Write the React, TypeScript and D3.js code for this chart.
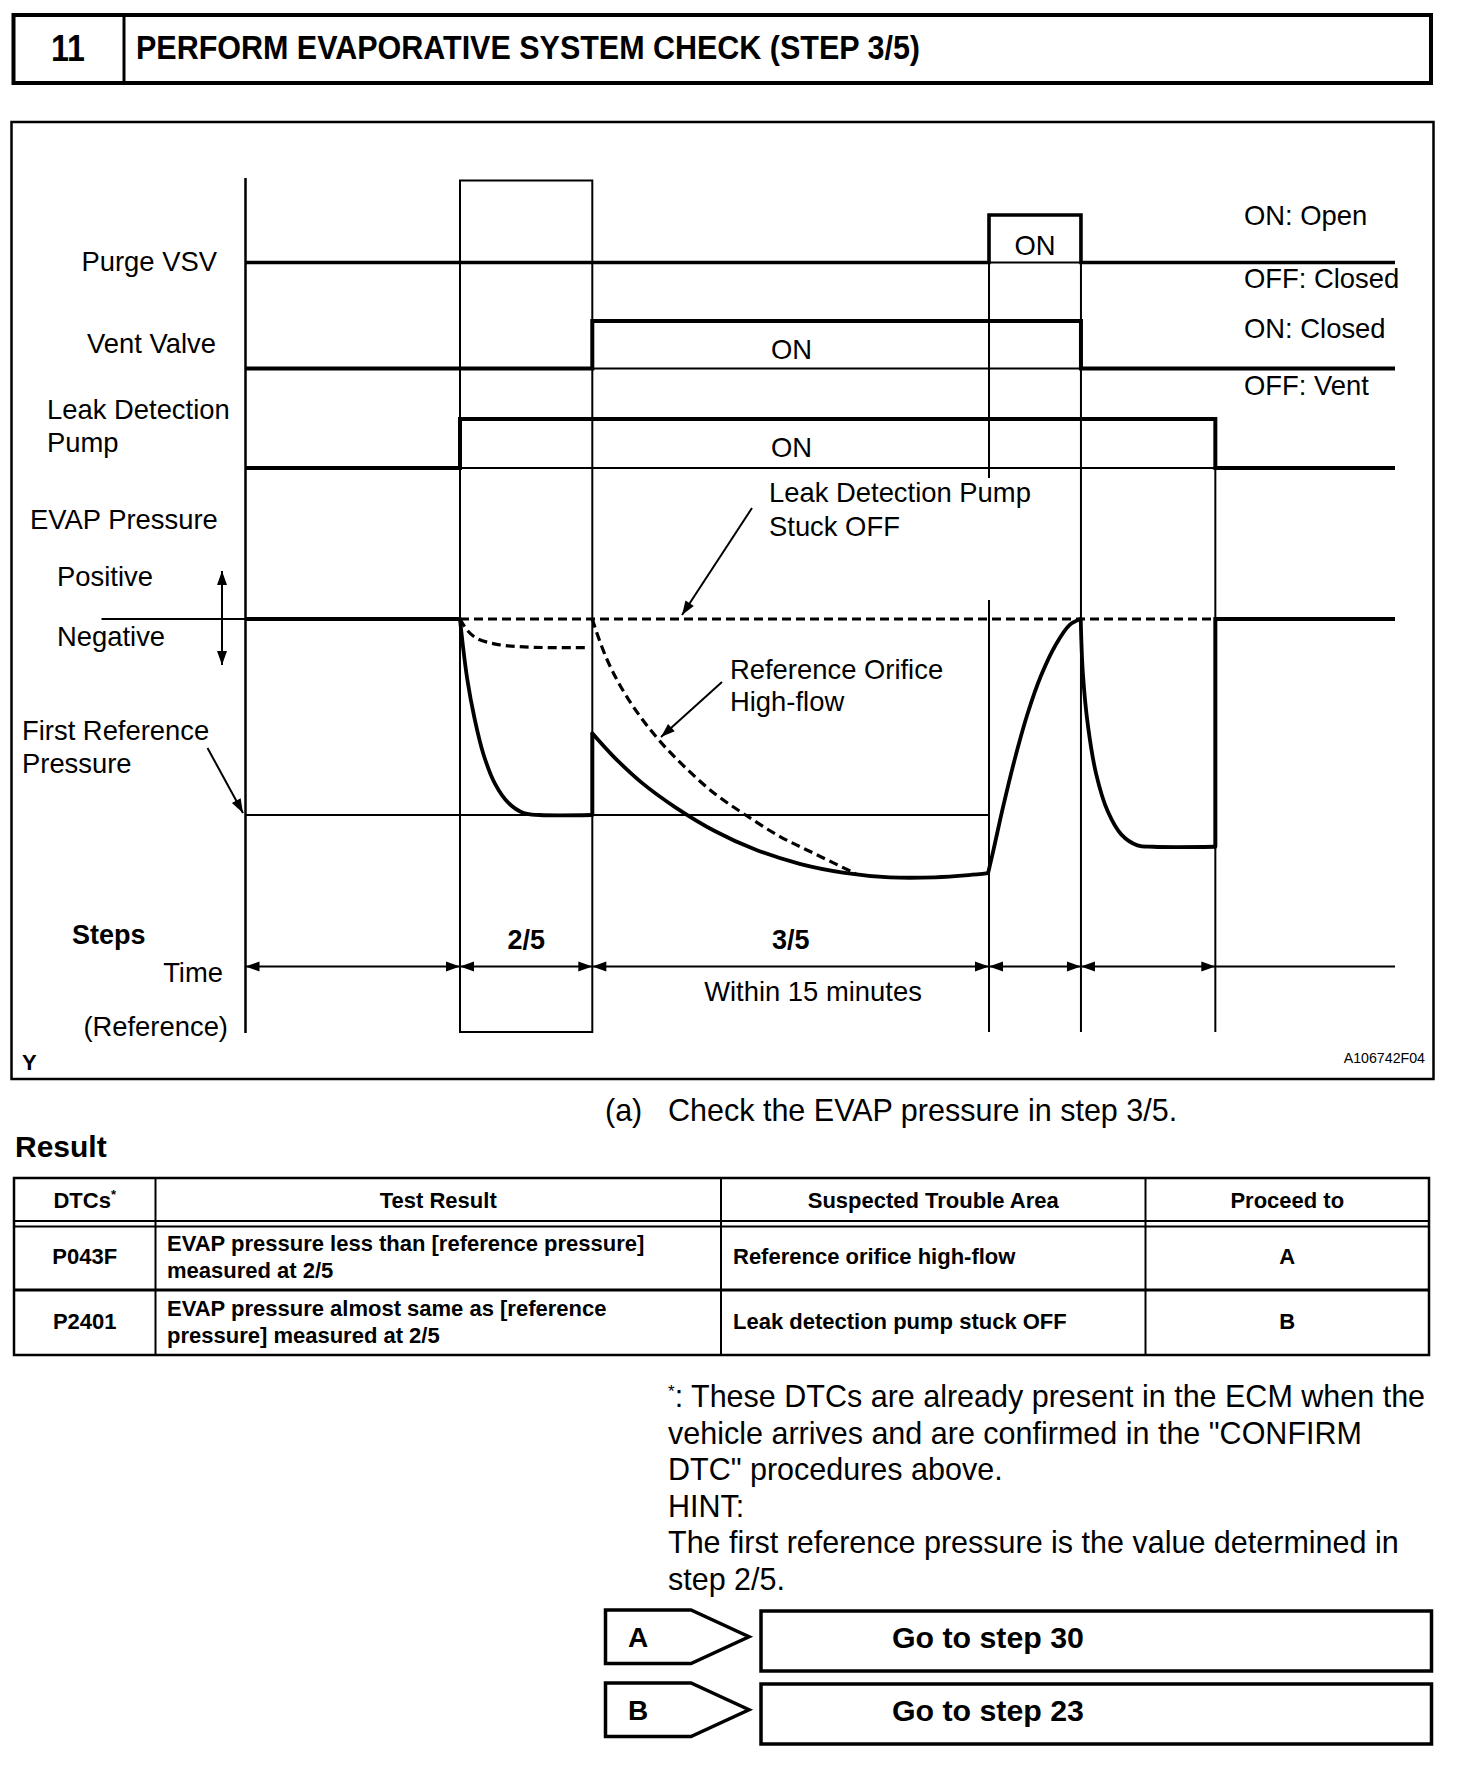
import React from "react";
import { scaleLinear, line, curveStepAfter, curveCatmullRom, curveLinear } from "d3";

const W = 1472;
const H = 1766;
const FONT = "'Liberation Sans', Arial, Helvetica, sans-serif";

// timeline in arbitrary units: 0 = start of trace, 100 = end of trace
const phaseBounds = [0, 18.66, 30.17, 64.68, 72.68, 84.37, 100];
const stepNames = ["", "2/5", "3/5", "", "", ""];

// on/off states (time, state) for the three actuators
const purgeVsv: [number, number][] = [[0, 0], [64.68, 1], [72.68, 0], [100, 0]];
const ventValve: [number, number][] = [[0, 0], [30.17, 1], [72.68, 0], [100, 0]];
const leakPump: [number, number][] = [[0, 0], [18.66, 1], [84.37, 0], [100, 0]];

// EVAP pressure, 0 = atmospheric, -1 = first reference pressure
const normalFlat: [number, number][] = [[0, 0], [18.66, 0]];
const normalStep2: [number, number][] = [[18.66, 0], [18.9, -0.13], [19.3, -0.31], [19.9, -0.5], [20.7, -0.69], [21.7, -0.84], [22.9, -0.94], [24.2, -0.99], [25.6, -1], [30.17, -1]];
const normalJump: [number, number][] = [[30.17, -1], [30.17, -0.583]];
const normalStep3: [number, number][] = [[30.17, -0.583], [32.04, -0.703], [34.49, -0.836], [37.43, -0.962], [40.86, -1.083], [44.29, -1.175], [48.21, -1.249], [52.13, -1.295], [56.05, -1.318], [59.97, -1.318], [62.91, -1.307], [64.6, -1.297]];
const normalPurge: [number, number][] = [[64.6, -1.297], [65.1, -1.17], [65.9, -0.96], [66.9, -0.72], [68.0, -0.49], [69.2, -0.29], [70.5, -0.13], [71.7, -0.03], [72.66, 0]];
const normalStep4: [number, number][] = [[72.66, 0], [72.85, -0.28], [73.3, -0.55], [74.0, -0.79], [75.0, -0.98], [76.2, -1.1], [77.6, -1.155], [79.0, -1.162], [84.37, -1.162]];
const normalEnd: [number, number][] = [[84.37, -1.162], [84.37, 0], [100, 0]];

const stuckOff: [number, number][] = [[18.66, 0], [84.37, 0]];
const orificeStep2: [number, number][] = [[18.66, 0], [19.27, -0.056], [20.1, -0.098], [21.75, -0.128], [23.79, -0.141], [26.5, -0.146], [29.97, -0.146]];
const orificeStep3: [number, number][] = [[30.17, 0], [30.5, -0.06], [31.4, -0.2], [32.5, -0.33], [34.0, -0.47], [36.0, -0.62], [38.3, -0.76], [40.8, -0.89], [43.5, -1.0], [46.5, -1.11], [49.6, -1.2], [53.1, -1.3]];

const tableHeader = ["DTCs", "Test Result", "Suspected Trouble Area", "Proceed to"];
const dtcCodes = ["P043F", "P2401"];
const testResults = [
  ["EVAP pressure less than [reference pressure]", "measured at 2/5"],
  ["EVAP pressure almost same as [reference", "pressure] measured at 2/5"],
];
const troubleAreas = ["Reference orifice high-flow", "Leak detection pump stuck OFF"];
const proceedTo = ["A", "B"];
const gotoSteps = ["Go to step 30", "Go to step 23"];

const noteLines = [
  ": These DTCs are already present in the ECM when the",
  "vehicle arrives and are confirmed in the \"CONFIRM",
  "DTC\" procedures above.",
  "HINT:",
  "The first reference pressure is the value determined in",
  "step 2/5.",
];

function head(x1: number, y1: number, x2: number, y2: number, len = 14, half = 5) {
  const a = Math.atan2(y2 - y1, x2 - x1);
  const bx = x2 - len * Math.cos(a);
  const by = y2 - len * Math.sin(a);
  const nx = -Math.sin(a) * half;
  const ny = Math.cos(a) * half;
  return `${x2},${y2} ${bx + nx},${by + ny} ${bx - nx},${by - ny}`;
}

function Arrow({ x1, y1, x2, y2, both = false }: any) {
  return (
    <g>
      <line x1={x1} y1={y1} x2={x2} y2={y2} stroke="#000" strokeWidth={2} />
      <polygon points={head(x1, y1, x2, y2)} fill="#000" />
      {both && <polygon points={head(x2, y2, x1, y1)} fill="#000" />}
    </g>
  );
}

export default function App() {
  const x = scaleLinear().domain([0, 100]).range([245.5, 1395]);
  const p = scaleLinear().domain([0, -1]).range([619, 815]);

  const rows = [
    { data: purgeVsv, y: scaleLinear().domain([0, 1]).range([262.5, 215]) },
    { data: ventValve, y: scaleLinear().domain([0, 1]).range([368.5, 321]) },
    { data: leakPump, y: scaleLinear().domain([0, 1]).range([468, 419]) },
  ];

  const smooth = line<[number, number]>().x((d) => x(d[0])).y((d) => p(d[1])).curve(curveCatmullRom.alpha(0.5));
  const straight = line<[number, number]>().x((d) => x(d[0])).y((d) => p(d[1])).curve(curveLinear);

  const txt = { fontFamily: FONT, fontSize: 27.4, fill: "#000" } as const;
  const bold = { fontFamily: FONT, fontWeight: 700, fill: "#000" } as const;
  const cell = { ...bold, fontSize: 22 } as const;
  const timeY = 966.5;

  return (
    <svg width={W} height={H} style={{ position: "absolute", left: 0, top: 0, background: "#fff" }}>
      <rect width={W} height={H} fill="#fff" />

      {/* title bar */}
      <rect x={13.5} y={15} width={1417.5} height={68} fill="none" stroke="#000" strokeWidth={4} />
      <line x1={124} y1={15} x2={124} y2={83} stroke="#000" strokeWidth={3} />
      <text x={68} y={61} textAnchor="middle" {...bold} fontSize={36} textLength={34} lengthAdjust="spacingAndGlyphs">11</text>
      <text x={136} y={59} {...bold} fontSize={33} textLength={784} lengthAdjust="spacingAndGlyphs">PERFORM EVAPORATIVE SYSTEM CHECK (STEP 3/5)</text>

      {/* chart frame */}
      <rect x={11.5} y={122} width={1422} height={957} fill="none" stroke="#000" strokeWidth={2.5} />

      {/* time axis and phase boundaries */}
      <line x1={x(0)} y1={178} x2={x(0)} y2={1033} stroke="#000" strokeWidth={2.5} />
      <rect x={x(phaseBounds[1])} y={180.5} width={x(phaseBounds[2]) - x(phaseBounds[1])} height={851.5} fill="none" stroke="#000" strokeWidth={2} />
      <line x1={x(phaseBounds[3])} y1={215} x2={x(phaseBounds[3])} y2={478} stroke="#000" strokeWidth={2} />
      <line x1={x(phaseBounds[3])} y1={600} x2={x(phaseBounds[3])} y2={1032} stroke="#000" strokeWidth={2} />
      <line x1={x(phaseBounds[4])} y1={215} x2={x(phaseBounds[4])} y2={1032} stroke="#000" strokeWidth={2} />
      <line x1={x(phaseBounds[5])} y1={419} x2={x(phaseBounds[5])} y2={1032} stroke="#000" strokeWidth={2} />

      {/* actuator signals */}
      {rows.map((r, i) => {
        const g = line<[number, number]>().x((d) => x(d[0])).y((d) => r.y(d[1])).curve(curveStepAfter);
        const on = r.data.filter((d) => d[1] === 1)[0][0];
        const off = r.data.filter((d, j) => j > 0 && d[1] === 0)[0][0];
        return (
          <g key={i}>
            <line x1={x(on)} x2={x(off)} y1={r.y(0)} y2={r.y(0)} stroke="#000" strokeWidth={2} />
            <path d={g(r.data) || ""} fill="none" stroke="#000" strokeWidth={i === 0 ? 3.6 : 4} />
          </g>
        );
      })}

      {/* EVAP pressure */}
      <line x1={101.5} x2={x(0)} y1={p(0)} y2={p(0)} stroke="#000" strokeWidth={2} />
      <line x1={x(0)} x2={x(phaseBounds[3])} y1={p(-1)} y2={p(-1)} stroke="#000" strokeWidth={2} />
      {[stuckOff, orificeStep2, orificeStep3].map((d, i) => (
        <path key={i} d={(i === 0 ? straight(d) : smooth(d)) || ""} fill="none" stroke="#000" strokeWidth={3.2} strokeDasharray="9 5" />
      ))}
      {[normalFlat, normalJump, normalEnd].map((d, i) => (
        <path key={i} d={straight(d) || ""} fill="none" stroke="#000" strokeWidth={4} />
      ))}
      {[normalStep2, normalStep3, normalPurge, normalStep4].map((d, i) => (
        <path key={i} d={smooth(d) || ""} fill="none" stroke="#000" strokeWidth={3.8} strokeLinecap="round" strokeLinejoin="round" />
      ))}

      {/* time arrows */}
      <line x1={x(0)} x2={x(100)} y1={timeY} y2={timeY} stroke="#000" strokeWidth={2} />
      {phaseBounds.slice(0, 5).map((t, i) => (
        <g key={i}>
          <polygon points={head(x(phaseBounds[i + 1]), timeY, x(t), timeY)} fill="#000" />
          <polygon points={head(x(t), timeY, x(phaseBounds[i + 1]), timeY)} fill="#000" />
        </g>
      ))}
      {stepNames.map((s, i) => s && (
        <text key={i} x={(x(phaseBounds[i]) + x(phaseBounds[i + 1])) / 2} y={949} textAnchor="middle" {...bold} fontSize={27}>{s}</text>
      ))}

      {/* left labels */}
      <text x={217} y={271} textAnchor="end" {...txt}>Purge VSV</text>
      <text x={216} y={353} textAnchor="end" {...txt}>Vent Valve</text>
      <text x={47} y={419} {...txt}>Leak Detection</text>
      <text x={47} y={452} {...txt}>Pump</text>
      <text x={30} y={529} {...txt}>EVAP Pressure</text>
      <text x={57} y={586} {...txt}>Positive</text>
      <text x={57} y={646} {...txt}>Negative</text>
      <Arrow x1={222} y1={571} x2={222} y2={665} both />
      <text x={22} y={740} {...txt}>First Reference</text>
      <text x={22} y={773} {...txt}>Pressure</text>
      <Arrow x1={207.5} y1={748} x2={243} y2={813} />
      <text x={72} y={944} {...bold} fontSize={27}>Steps</text>
      <text x={223} y={982} textAnchor="end" {...txt}>Time</text>
      <text x={228} y={1036} textAnchor="end" {...txt}>(Reference)</text>
      <text x={22} y={1070} {...bold} fontSize={22}>Y</text>
      <text x={1425} y={1063} textAnchor="end" fontFamily={FONT} fontSize={14.2}>A106742F04</text>

      {/* right labels */}
      <text x={1244} y={225} {...txt}>ON: Open</text>
      <text x={1244} y={288} {...txt}>OFF: Closed</text>
      <text x={1244} y={338} {...txt}>ON: Closed</text>
      <text x={1244} y={395} {...txt}>OFF: Vent</text>

      {/* in-plot labels */}
      <text x={(x(phaseBounds[3]) + x(phaseBounds[4])) / 2} y={255} textAnchor="middle" {...txt}>ON</text>
      <text x={771} y={359} {...txt}>ON</text>
      <text x={771} y={457} {...txt}>ON</text>
      <text x={769} y={502} {...txt}>Leak Detection Pump</text>
      <text x={769} y={536} {...txt}>Stuck OFF</text>
      <Arrow x1={752} y1={508} x2={682} y2={615} />
      <text x={730} y={679} {...txt}>Reference Orifice</text>
      <text x={730} y={711} {...txt}>High-flow</text>
      <Arrow x1={722} y1={682} x2={661} y2={737} />
      <text x={813} y={1001} textAnchor="middle" {...txt}>Within 15 minutes</text>

      {/* check text */}
      <text x={605} y={1121} fontFamily={FONT} fontSize={30.5}>(a)</text>
      <text x={668} y={1121} fontFamily={FONT} fontSize={30.5}>Check the EVAP pressure in step 3/5.</text>
      <text x={15} y={1157} {...bold} fontSize={30}>Result</text>

      {/* result table */}
      <g>
        <rect x={14} y={1178} width={1415} height={177} fill="none" stroke="#000" strokeWidth={2.5} />
        <line x1={14} x2={1429} y1={1221} y2={1221} stroke="#000" strokeWidth={2} />
        <line x1={14} x2={1429} y1={1226.5} y2={1226.5} stroke="#000" strokeWidth={2} />
        <line x1={14} x2={1429} y1={1290} y2={1290} stroke="#000" strokeWidth={3} />
        {[155.5, 721, 1145.5].map((cx) => (
          <line key={cx} x1={cx} x2={cx} y1={1178} y2={1355} stroke="#000" strokeWidth={2} />
        ))}
        {tableHeader.map((h, i) => {
          const cx = [(14 + 155.5) / 2, (155.5 + 721) / 2, (721 + 1145.5) / 2, (1145.5 + 1429) / 2][i];
          return (
            <text key={h} x={cx} y={1207.5} textAnchor="middle" {...cell}>
              {h}
              {i === 0 && <tspan dy={-9} fontSize={13}>*</tspan>}
            </text>
          );
        })}
        {dtcCodes.map((c, i) => {
          const cy = [1256, 1321][i];
          return (
            <g key={c}>
              <text x={(14 + 155.5) / 2} y={cy + 7.5} textAnchor="middle" {...cell}>{c}</text>
              <text x={167} y={cy - 5} {...cell}>{testResults[i][0]}</text>
              <text x={167} y={cy + 22} {...cell}>{testResults[i][1]}</text>
              <text x={733} y={cy + 7.5} {...cell}>{troubleAreas[i]}</text>
              <text x={(1145.5 + 1429) / 2} y={cy + 7.5} textAnchor="middle" {...cell}>{proceedTo[i]}</text>
            </g>
          );
        })}
      </g>

      {/* footnote and hint */}
      {noteLines.map((l, i) => (
        <text key={i} x={668} y={1407 + i * 36.6} fontFamily={FONT} fontSize={30.5}>
          {i === 0 && <tspan dy={-10} fontSize={17}>*</tspan>}
          {i === 0 ? <tspan dy={10}>{l}</tspan> : l}
        </text>
      ))}

      {/* proceed boxes */}
      {proceedTo.map((k, i) => {
        const top = [1610, 1683][i];
        const bot = top + 53.5;
        const mid = (top + bot) / 2;
        return (
          <g key={k}>
            <polygon points={`605.5,${top} 691,${top} 749,${mid} 691,${bot} 605.5,${bot}`} fill="#fff" stroke="#000" strokeWidth={3.5} />
            <text x={628} y={mid + 10} {...bold} fontSize={28}>{k}</text>
            <rect x={761} y={top + 1} width={670.5} height={60} fill="#fff" stroke="#000" strokeWidth={3.5} />
            <text x={892} y={mid + 11} {...bold} fontSize={30.3}>{gotoSteps[i]}</text>
          </g>
        );
      })}
    </svg>
  );
}
